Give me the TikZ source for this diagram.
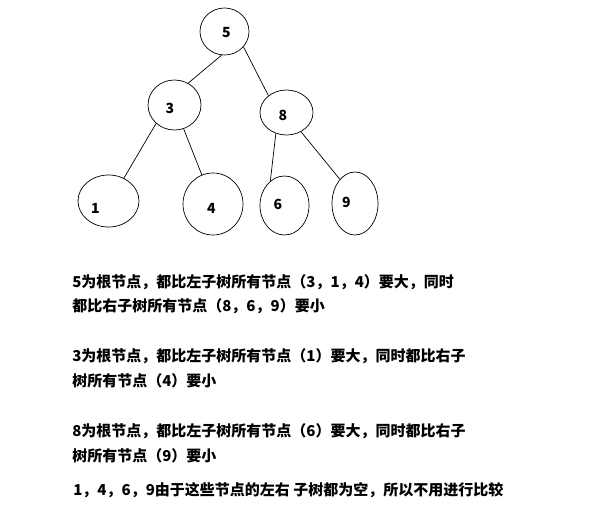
\documentclass[tikz,border=0pt]{standalone}
\usepackage{fontspec}
\setmainfont{Noto Sans CJK SC}
\usetikzlibrary{shapes.geometric}

\begin{document}
\begin{tikzpicture}[x=1pt,y=-1pt,line width=0.7pt,
      vtx/.style={ellipse,draw,inner sep=0pt},
      num/.style={font=\fontsize{14}{14}\selectfont\bfseries},
      txt/.style={anchor=west,inner sep=0pt,align=left,
        font=\fontsize{15}{24.5}\selectfont\bfseries}]
      \useasboundingbox (0,0) rectangle (611,522);

      \node[vtx,minimum width=49,minimum height=47,
        label={[num,shift={(2,1.5)}]center:5}]    (n5) at (224.5, 31.5) {};
      \node[vtx,minimum width=53,minimum height=50,
        label={[num,shift={(-4.5,3)}]center:3}]   (n3) at (174.5,105) {};
      \node[vtx,minimum width=53,minimum height=45,
        label={[num,shift={(-3.5,2.5)}]center:8}] (n8) at (286.5,112.5) {};

      \node[vtx,minimum width=61,minimum height=52,
        label={[num,shift={(-13,7)}]center:1}]    (n1) at (108.5,201) {};
      \node[vtx,minimum width=60,minimum height=62,
        label={[num,shift={(-1.5,4)}]center:4}]   (n4) at (213,204) {};
      \node[vtx,minimum width=49,minimum height=59,
        label={[num,shift={(-6.5,-1.5)}]center:6}] (n6) at (284.5,205.5) {};
      \node[vtx,minimum width=46,minimum height=63,
        label={[num,shift={(-8.5,-1.5)}]center:9}] (n9) at (355,203.5) {};

      \draw (n5.263) -- (n3.58);    % left
      \draw (n5.321) -- (n8.137);   % right
      \draw (n3.225) -- (n1.56);
      \draw (n3.291) -- (n4.111);
      \draw (n8.243) -- (n6.120);
      \draw (n8.307) -- (n9.122);

      \node[txt] (p5) at (72,294.3)
        {5为根节点，都比左子树所有节点（3，1，4）要大，同时\\
         都比右子树所有节点（8，6，9）要小};
      \node[txt] (p3) at (72,368.3)
        {3为根节点，都比左子树所有节点（1）要大，同时都比右子\\
         树所有节点（4）要小};
      \node[txt] (p8) at (72,443.3)
        {8为根节点，都比左子树所有节点（6）要大，同时都比右子\\
         树所有节点（9）要小};
      \node[txt] (pl) at (73,490.3)
        {1，4，6，9由于这些节点的左右 子树都为空，所以不用进行比较};
\end{tikzpicture}
\end{document}
